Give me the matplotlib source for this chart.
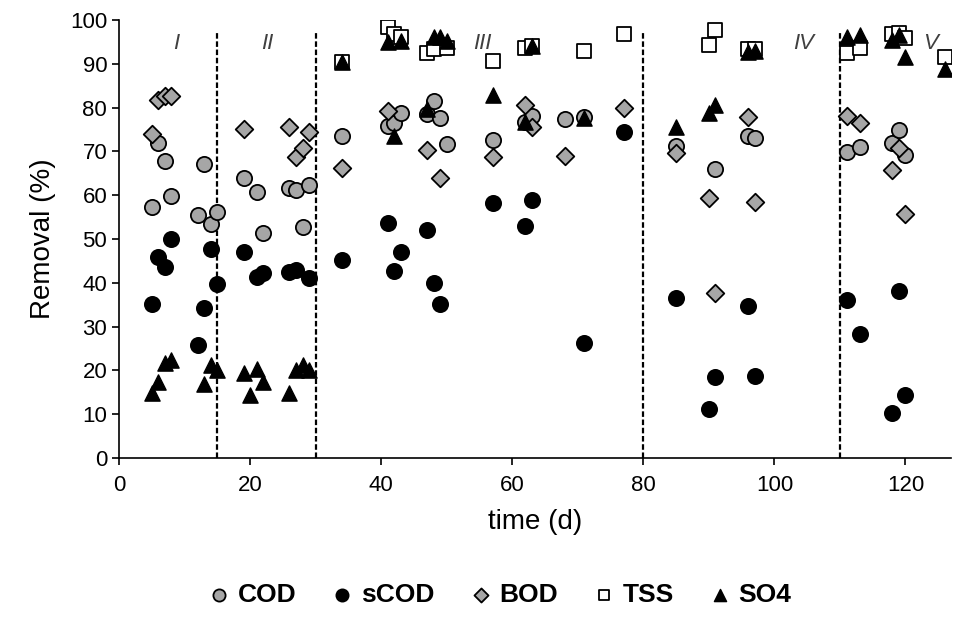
import matplotlib
matplotlib.use('Agg')
import matplotlib.pyplot as plt

plt.rcParams['font.family'] = ['Liberation Sans', 'DejaVu Sans']

# values (time in days, removal in %)
cod_t = [5, 6, 7, 8, 12, 13, 14, 15, 19, 21, 22, 26, 27, 28, 29,
         34, 41, 42, 43, 47, 48, 49, 50, 57, 62, 63, 68, 71, 85, 91, 96, 97,
         111, 113, 118, 119, 120]
cod_v = [57.2, 72.0, 67.8, 59.7, 55.5, 67.0, 53.4, 56.1, 64.0, 60.8, 51.4, 61.6, 61.2, 52.7, 62.2,
         73.6, 75.8, 76.4, 78.8, 78.5, 81.6, 77.5, 71.6, 72.6, 76.6, 78.1, 77.4, 77.9, 71.2, 65.9, 73.6, 73.1,
         69.9, 71.1, 72.0, 74.8, 69.2]

scod_t = [5, 6, 7, 8, 12, 13, 14, 15, 19, 21, 22, 26, 27, 29,
          34, 41, 42, 43, 47, 48, 49, 57, 62, 63, 71, 77, 85, 90, 91, 96, 97,
          111, 113, 118, 119, 120]
scod_v = [35.2, 45.8, 43.7, 50.0, 25.8, 34.2, 47.6, 39.7, 46.9, 41.4, 42.2, 42.5, 42.9, 41.0,
          45.1, 53.7, 42.7, 46.9, 52.1, 40.0, 35.1, 58.3, 53.0, 58.9, 26.3, 74.3, 36.6, 11.1, 18.4, 34.7, 18.6,
          36.1, 28.3, 10.2, 38.2, 14.4]

bod_t = [5, 6, 7, 8, 19, 26, 27, 28, 29, 34, 41, 47, 49, 57, 62, 63, 68, 77, 85, 90, 91, 96, 97,
         111, 113, 118, 119, 120]
bod_v = [74.0, 81.7, 82.6, 82.6, 75.0, 75.5, 68.6, 70.7, 74.4, 66.3, 79.1, 70.3, 63.9, 68.6, 80.6, 75.6,
         68.9, 79.8, 69.6, 59.3, 37.7, 77.9, 58.5, 78.1, 76.4, 65.8, 70.8, 55.6]

tss_t = [34, 41, 42, 43, 47, 48, 50, 57, 62, 63, 71, 77, 90, 91, 96, 97,
         111, 113, 118, 119, 120, 126]
tss_v = [90.3, 98.3, 96.8, 96.2, 92.5, 93.3, 93.5, 90.7, 93.7, 94.1, 92.8, 96.8, 94.3, 97.6, 93.4, 93.4,
         92.5, 93.5, 96.8, 97.0, 95.8, 91.6]

so4_t = [5, 6, 7, 8, 13, 14, 15, 19, 20, 21, 22, 26, 27, 28, 29,
         34, 41, 42, 43, 47, 48, 49, 50, 57, 62, 63, 71, 85, 90, 91, 96, 97,
         111, 113, 118, 119, 120, 126]
so4_v = [14.8, 17.4, 21.6, 22.4, 16.9, 21.2, 20.1, 19.5, 14.4, 20.2, 17.4, 14.8, 20.1, 21.2, 20.1,
         90.5, 94.9, 73.5, 95.1, 79.6, 96.0, 96.0, 95.3, 82.9, 76.8, 94.0, 77.6, 75.6, 78.8, 80.6, 92.6, 92.8,
         96.2, 96.6, 95.5, 96.5, 91.5, 88.8]

# operating phases
phase_bounds = [15, 30, 80, 110]
phase_names = ['I', 'II', 'III', 'IV', 'V']
phase_label_t = [8.7, 22.6, 55.4, 104.5, 123.8]

fig = plt.figure(figsize=(9.6, 6.23), dpi=100)
ax = fig.add_axes([0.124, 0.265, 0.867, 0.703])

ax.scatter(cod_t, cod_v, marker='o', s=120, facecolor='#a6a6a6', edgecolor='black', lw=1.3,
           label='COD', zorder=3)
ax.scatter(scod_t, scod_v, marker='o', s=120, facecolor='black', edgecolor='black', lw=1.3,
           label='sCOD', zorder=3)
ax.scatter(bod_t, bod_v, marker='D', s=80, facecolor='#a6a6a6', edgecolor='black', lw=1.3,
           label='BOD', zorder=3)
ax.scatter(tss_t, tss_v, marker='s', s=95, facecolor='white', edgecolor='black', lw=1.3,
           label='TSS', zorder=3)
ax.scatter(so4_t, so4_v, marker='^', s=120, facecolor='black', edgecolor='black', lw=1.0,
           label='SO4', zorder=3)

for b in phase_bounds:
    ax.plot([b, b], [0, 97.5], color='black', lw=1.6, ls=(0, (2.5, 1.2)), zorder=2)
for name, t in zip(phase_names, phase_label_t):
    ax.text(t, 94.7, name, fontsize=16, style='italic', color='#404040', ha='center', va='center')

ax.set_xlim(0, 127)
ax.set_ylim(0, 100)
ax.set_xticks(range(0, 121, 20))
ax.set_yticks(range(0, 101, 10))
ax.spines['top'].set_visible(False)
ax.spines['right'].set_visible(False)
ax.spines['left'].set_linewidth(1.2)
ax.spines['bottom'].set_linewidth(1.2)
ax.tick_params(direction='out', length=5, width=1.2, labelsize=16, colors='black')
ax.tick_params(axis='x', pad=7)
ax.set_xlabel('time (d)', fontsize=20, labelpad=10)
ax.set_ylabel('Removal (%)', fontsize=20, labelpad=10)

leg = fig.legend(loc='center', bbox_to_anchor=(0.52, 0.045), ncol=5, frameon=False,
                 markerscale=0.8, handlelength=0.9, handletextpad=0.25, columnspacing=1.3,
                 prop={'weight': 'bold', 'size': 19})

fig.savefig('out.png', dpi=100)
